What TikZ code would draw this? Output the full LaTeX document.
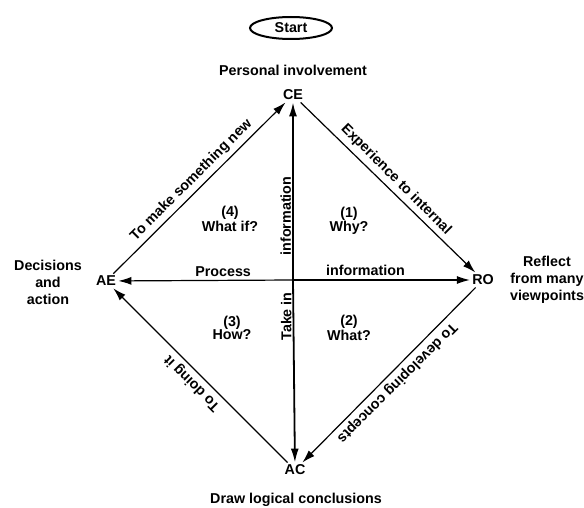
\documentclass[tikz,border=0pt]{standalone}
\usepackage{fontspec}
\setmainfont{Liberation Sans}
\usetikzlibrary{arrows.meta,shapes.geometric}
\tikzset{every picture/.style={line width=0.75pt}}

\begin{document}
\begin{tikzpicture}[x=1pt,y=1pt,yscale=-1,xscale=1,
  font=\fontsize{14.3}{16}\selectfont\bfseries,
  flow/.style={line width=1.2pt,-{Latex[length=13pt,width=8pt]}},
  axis/.style={line width=1.8pt,-{Latex[length=14pt,width=8pt]}},
  mode/.style={inner sep=2pt},
  quad/.style={align=center,font=\fontsize{14.3}{13}\selectfont\bfseries},
  side/.style={align=center,font=\fontsize{14.3}{17}\selectfont\bfseries},
  along/.style={anchor=south,inner sep=4pt}]
%uncomment if require: \path (0,508); %set diagram left start at 0, and has height of 508
\path[use as bounding box] (0,0) rectangle (584,508);

%Shape: Ellipse
\node[draw,ellipse,line width=2pt,minimum width=82pt,minimum height=22pt,inner sep=0pt] (start) at (291,28) {Start};

% Text Node
\node (involve) at (293,70) {Personal involvement};
% Text Node
\node[mode] (CE) at (293,95) {CE};
% Text Node
\node[mode] (AE) at (106,281) {AE};
% Text Node
\node[mode] (RO) at (483,280) {RO};
% Text Node
\node[mode] (AC) at (295,470) {AC};
% Text Node
\node (conclude) at (296,500) {Draw logical conclusions};
% Text Node
\node[side] (decide) at (48,282) {Decisions\\and\\action};
% Text Node
\node[side] (reflect) at (547,280) {Reflect\\from many\\viewpoints};

% Text Node
\node[quad] (q4) at (230,219) {(4)\\What if?};
\node[quad] (q1) at (349,221) {(1)\\Why?};
\node[quad] (q3) at (232,328) {(3)\\How?};
\node[quad] (q2) at (349,328) {(2)\\What?};

\coordinate (mid) at (293,280);

%Straight Lines
\draw[axis] (mid) -- (CE) node[pos=0.36,rotate=90,anchor=south,inner sep=1pt] {information};
\draw[axis] (mid) -- (AC) node[pos=0.2,rotate=90,anchor=south,inner sep=1pt] {Take in};
\draw[flow] (mid) -- (AE) node[pos=0.4,above] {Process};
\draw[flow] (mid) -- (RO) node[pos=0.41,above] {information};

%Straight Lines
\draw[flow] (AE) -- (CE) node[midway,rotate=45,along] {To make something new};
\draw[flow] (CE) -- (RO) node[midway,rotate=-45,along] {Experience to internal};
\draw[flow] (RO) -- (AC) node[midway,rotate=225,along] {To developing concepts};
\draw[flow] (AC) -- (AE) node[midway,rotate=135,along] {To doing it};

\end{tikzpicture}
\end{document}
